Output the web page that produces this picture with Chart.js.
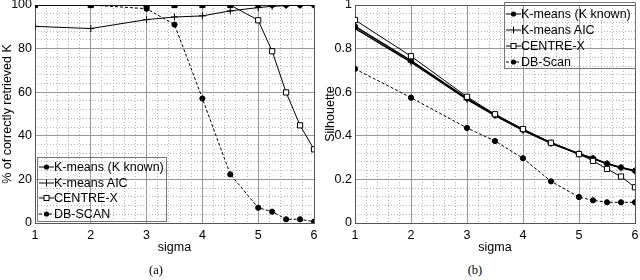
<!DOCTYPE html>
<html><head><meta charset="utf-8">
<script src="https://cdn.jsdelivr.net/npm/chart.js@4"></script>
<style>
html,body{margin:0;padding:0;background:#fff;}
#wrap{position:relative;width:640px;height:280px;overflow:hidden;font-family:"Liberation Sans",Arial,sans-serif;}
canvas{position:absolute;top:0;}
.legend{position:absolute;border:1px solid #777;box-sizing:border-box;font-size:12.5px;color:#000;}
.item{position:absolute;left:0;height:16px;display:flex;align-items:center;white-space:nowrap;}
.item svg{margin-left:1px;margin-right:0px;}
.cap{position:absolute;font-family:"Liberation Serif","Times New Roman",serif;font-size:12.5px;transform:translate(-50%,-50%);white-space:nowrap;}
</style></head>
<body>
<div id="wrap">
  <canvas id="ca" width="320" height="260" style="left:0"></canvas>
  <canvas id="cb" width="320" height="260" style="left:320px"></canvas>
  <div class="legend" id="legA" style="left:37px;top:157px;width:130px;height:65px"></div>
  <div class="legend" id="legB" style="left:504px;top:2px;width:132px;height:67px"></div>
  <div class="cap" style="left:156px;top:270px">(a)</div>
  <div class="cap" style="left:475px;top:270px">(b)</div>
</div>
<script>
// ---- data ----
const sigma = [1, 2, 3, 3.5, 4, 4.5, 5, 5.25, 5.5, 5.75, 6];
const xTicks = [1, 2, 3, 4, 5, 6];

const labelsA = ['K-means (K known)', 'K-means AIC', 'CENTRE-X', 'DB-SCAN'];
const kKnownA = [100, 100, 100, 100, 100, 100, 100, 100, 100, 100, 100];
const aicA    = [90.2, 89.2, 93.3, 94.5, 95.0, 97.3, 98.8, 99.4, 99.7, 99.9, 100];
const centreA = [100, 100, 100, 100, 100, 100, 93.0, 78.8, 59.9, 44.8, 33.8];
const dbA     = [100, 100, 98.3, 91.0, 57.1, 22.3, 7.0, 5.2, 1.7, 1.7, 0.6];
const yTicksA = [0, 20, 40, 60, 80, 100];

const labelsB = ['K-means (K known)', 'K-means AIC', 'CENTRE-X', 'DB-Scan'];
const kKnownB = [0.902, 0.745, 0.571, 0.496, 0.428, 0.368, 0.318, 0.297, 0.273, 0.255, 0.240];
const aicB    = [0.893, 0.738, 0.567, 0.493, 0.425, 0.365, 0.316, 0.295, 0.271, 0.253, 0.238];
const centreB = [0.931, 0.765, 0.579, 0.499, 0.431, 0.368, 0.316, 0.285, 0.248, 0.213, 0.164];
const dbB     = [0.707, 0.575, 0.436, 0.376, 0.297, 0.191, 0.119, 0.104, 0.095, 0.095, 0.095];
const yTicksB = [0, 0.2, 0.4, 0.6, 0.8, 1];

// ---- styles ----
const FONT = {family: '"Liberation Sans", Arial, sans-serif', size: 12.5};
const styles = [
  {pointStyle: 'circle', pointRadius: 2.6, pointBackgroundColor: '#000', dash: []},
  {pointStyle: 'cross', pointRadius: 3.5, pointBackgroundColor: '#000', dash: []},
  {pointStyle: 'rect', pointRadius: 3.7, pointBackgroundColor: '#fff', dash: []},
  {pointStyle: 'circle', pointRadius: 2.6, pointBackgroundColor: '#000', dash: [3, 2]}
];

function pts(vals) { return sigma.map((s, i) => ({x: s, y: vals[i]})); }

function makeDatasets(labels, series, widths, orders) {
  return series.map((vals, i) => ({
    label: labels[i],
    data: pts(vals),
    borderColor: '#000',
    borderWidth: widths[i],
    borderDash: styles[i].dash,
    pointStyle: styles[i].pointStyle,
    pointRadius: styles[i].pointRadius,
    pointBackgroundColor: styles[i].pointBackgroundColor,
    pointBorderColor: '#000',
    pointBorderWidth: 1,
    tension: 0,
    fill: false,
    order: orders[i]
  }));
}

const framePlugin = {
  id: 'frame',
  beforeDatasetsDraw(chart) {
    const {ctx, chartArea: a} = chart;
    ctx.save();
    ctx.strokeStyle = '#555';
    ctx.lineWidth = 1;
    ctx.strokeRect(Math.round(a.left) + 0.5, Math.round(a.top) + 0.5,
                   Math.round(a.right) - Math.round(a.left), Math.round(a.bottom) - Math.round(a.top));
    ctx.restore();
  }
};

function makeChart(id, datasets, yMax, yTicks, yMinorStep, yTitle, titlePadTop, padTop, padRight) {
  return new Chart(document.getElementById(id), {
    type: 'line',
    data: {datasets},
    plugins: [framePlugin],
    options: {
      responsive: false,
      animation: false,
      layout: {padding: {top: padTop, right: padRight, bottom: 4.5, left: 0}},
      plugins: {legend: {display: false}, tooltip: {enabled: false}},
      scales: {
        xm: {
          type: 'linear', position: 'bottom', min: 1, max: 6,
          ticks: {display: false, stepSize: 0.2},
          grid: {color: '#b5b5b5', lineWidth: 1, drawTicks: false},
          border: {display: false, dash: [1, 2]},
          afterFit: s => { s.height = 0; s.paddingLeft = 0; s.paddingRight = 0; }
        },
        ym: {
          type: 'linear', position: 'left', min: 0, max: yMax,
          ticks: {display: false, stepSize: yMinorStep},
          grid: {color: '#b5b5b5', lineWidth: 1, drawTicks: false},
          border: {display: false, dash: [1, 2]},
          afterFit: s => { s.width = 0; s.paddingTop = 0; s.paddingBottom = 0; }
        },
        x: {
          type: 'linear', position: 'bottom', min: 1, max: 6,
          afterBuildTicks: s => { s.ticks = xTicks.map(v => ({value: v})); },
          ticks: {font: FONT, color: '#000', padding: 5, maxRotation: 0, autoSkip: false,
                  callback: v => String(v)},
          grid: {color: '#999', lineWidth: 1, drawTicks: false},
          border: {display: false},
          title: {display: true, text: 'sigma', font: FONT, color: '#000', padding: {top: 0, bottom: 0}},
          afterFit: s => { s.height = 32.5; s.paddingLeft = 0; s.paddingRight = 0; }
        },
        y: {
          type: 'linear', position: 'left', min: 0, max: yMax,
          afterBuildTicks: s => { s.ticks = yTicks.map(v => ({value: v})); },
          ticks: {font: FONT, color: '#000', padding: 3, autoSkip: false,
                  callback: v => String(v)},
          grid: {color: '#999', lineWidth: 1, drawTicks: false},
          border: {display: false},
          title: {display: true, text: yTitle, font: FONT, color: '#000', padding: {top: titlePadTop, bottom: 0}},
          afterFit: s => { s.width = 35; s.paddingTop = 0; s.paddingBottom = 0; }
        }
      }
    }
  });
}

makeChart('ca', makeDatasets(labelsA, [kKnownA, aicA, centreA, dbA], [1, 1, 1, 1], [0, 1, 2, 3]),
          100, yTicksA, 4, '% of correctly retrieved K', 0, 4.7, 6);
makeChart('cb', makeDatasets(labelsB, [kKnownB, aicB, centreB, dbB], [1.6, 1.4, 1, 1], [1, 2, 0, 3]),
          1, yTicksB, 0.04, 'Silhouette', 3.5, 2.5, 5);

// ---- HTML legends ----
function markerSvg(st) {
  const line = `<line x1="0" y1="8" x2="15" y2="8" stroke="#000" stroke-width="1"${st.dash.length ? ' stroke-dasharray="' + st.dash.join(',') + '"' : ''}/>`;
  let m = '';
  if (st.pointStyle === 'circle') m = '<circle cx="7.5" cy="8" r="2.6" fill="#000"/>';
  else if (st.pointStyle === 'cross') m = '<line x1="7.5" y1="4.5" x2="7.5" y2="11.5" stroke="#000" stroke-width="1"/>';
  else if (st.pointStyle === 'rect') m = '<rect x="5" y="5.5" width="5" height="5" fill="#fff" stroke="#000" stroke-width="1"/>';
  return `<svg width="15" height="16" viewBox="0 0 15 16">${line}${m}</svg>`;
}
function buildLegend(id, labels, top0, step) {
  const el = document.getElementById(id);
  labels.forEach((lab, i) => {
    const d = document.createElement('div');
    d.className = 'item';
    d.style.top = (top0 + i * step - 8) + 'px';
    d.innerHTML = markerSvg(styles[i]) + '<span>' + lab + '</span>';
    el.appendChild(d);
  });
}
buildLegend('legA', labelsA, 8.7, 15.8);
buildLegend('legB', labelsB, 11, 15.9);
</script>
</body></html>
